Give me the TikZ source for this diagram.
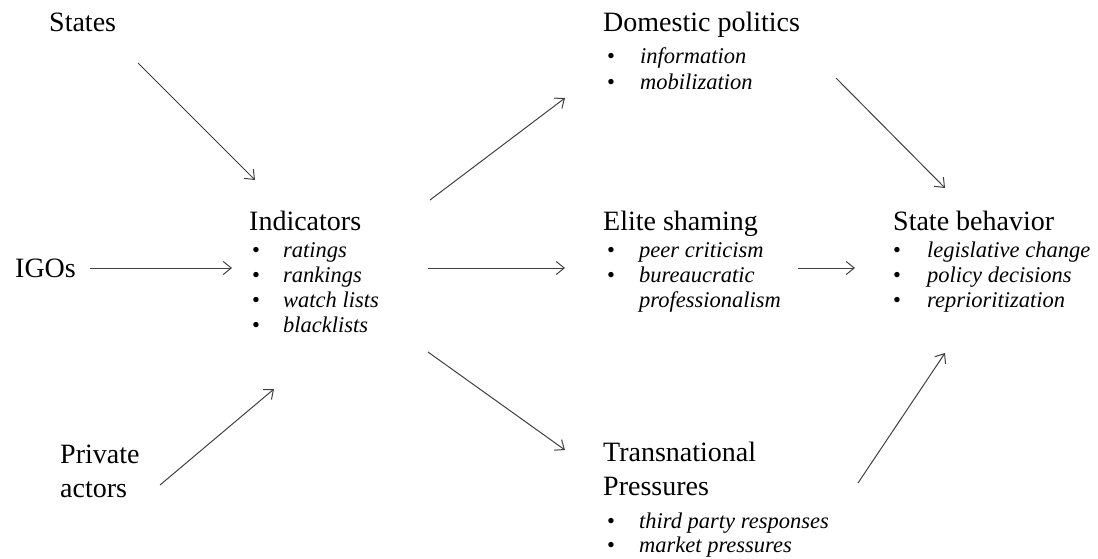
\documentclass[tikz,border=0pt]{standalone}
\usepackage{fontspec}
\setmainfont{Liberation Serif}
\usetikzlibrary{arrows.meta}
\tikzset{
  head/.style={anchor=base west,inner sep=0pt,font=\fontsize{28}{34}\selectfont},
  item/.style={anchor=base west,inner sep=0pt,font=\fontsize{22.5}{25}\selectfont\itshape},
  bul/.style={anchor=base west,inner sep=0pt,font=\fontsize{22.5}{25}\selectfont},
  arr/.style={draw=black!75,line width=1pt,-{Straight Barb[length=8pt,width=13pt]}}
}
\begin{document}
\begin{tikzpicture}[x=1pt,y=-1pt]
  \useasboundingbox (0,0) rectangle (1098,558);
  % sources
  \node[head] (states) at (49,31) {States};
  \node[head] (igos) at (15,277) {IGOs};
  \node[head] (priv) at (60,463) {Private};
  \node[head] (priv2) at (60,497) {actors};
  % indicators
  \node[head] (ind) at (249,230) {Indicators};
  \foreach \t [count=\i] in {ratings,rankings,watch lists,blacklists} {
    \node[bul] (ind-b\i) at (252,232+25*\i) {•};
    \node[item] (ind-\i) at (283,232+25*\i) {\t};
  }
  % channels
  \node[head] (dom) at (603,31) {Domestic politics};
  \foreach \t [count=\i] in {information,mobilization} {
    \node[bul] (dom-b\i) at (607,37+26*\i) {•};
    \node[item] (dom-\i) at (640,37+26*\i) {\t};
  }
  \node[head] (elite) at (603,230) {Elite shaming};
  \foreach \t [count=\i] in {peer criticism,bureaucratic} {
    \node[bul] (elite-b\i) at (607,232+25*\i) {•};
    \node[item] (elite-\i) at (639,232+25*\i) {\t};
  }
  \node[item] (elite-3) at (639,307) {professionalism};
  \node[head] (trans) at (603,461) {Transnational};
  \node[head] (trans2) at (603,495) {Pressures};
  \foreach \t [count=\i] in {third party responses,market pressures} {
    \node[bul] (trans-b\i) at (607,504+24*\i) {•};
    \node[item] (trans-\i) at (639,504+24*\i) {\t};
  }
  % outcome
  \node[head] (state) at (893,230) {State behavior};
  \foreach \t [count=\i] in {legislative change,policy decisions,reprioritization} {
    \node[bul] (state-b\i) at (893,232+25*\i) {•};
    \node[item] (state-\i) at (927,232+25*\i) {\t};
  }
  % arrow ends
  \coordinate (states-out) at (138,63);
  \coordinate (ind-in1) at (255,180);
  \coordinate (igos-out) at (90,268);
  \coordinate (ind-in2) at (232,268);
  \coordinate (priv-out) at (160,485);
  \coordinate (ind-in3) at (274,389);
  \coordinate (ind-out1) at (430,200);
  \coordinate (dom-in) at (565,98);
  \coordinate (ind-out2) at (428,268);
  \coordinate (elite-in) at (565,268);
  \coordinate (ind-out3) at (428,352);
  \coordinate (trans-in) at (565,450);
  \coordinate (dom-out) at (836,78);
  \coordinate (state-in1) at (945,188);
  \coordinate (elite-out) at (798,268);
  \coordinate (state-in2) at (855,268);
  \coordinate (trans-out) at (858,483);
  \coordinate (state-in3) at (945,353);
  % arrows
  \draw[arr] (states-out) -- (ind-in1);
  \draw[arr] (igos-out) -- (ind-in2);
  \draw[arr] (priv-out) -- (ind-in3);
  \draw[arr] (ind-out1) -- (dom-in);
  \draw[arr] (ind-out2) -- (elite-in);
  \draw[arr] (ind-out3) -- (trans-in);
  \draw[arr] (dom-out) -- (state-in1);
  \draw[arr] (elite-out) -- (state-in2);
  \draw[arr] (trans-out) -- (state-in3);
\end{tikzpicture}
\end{document}
